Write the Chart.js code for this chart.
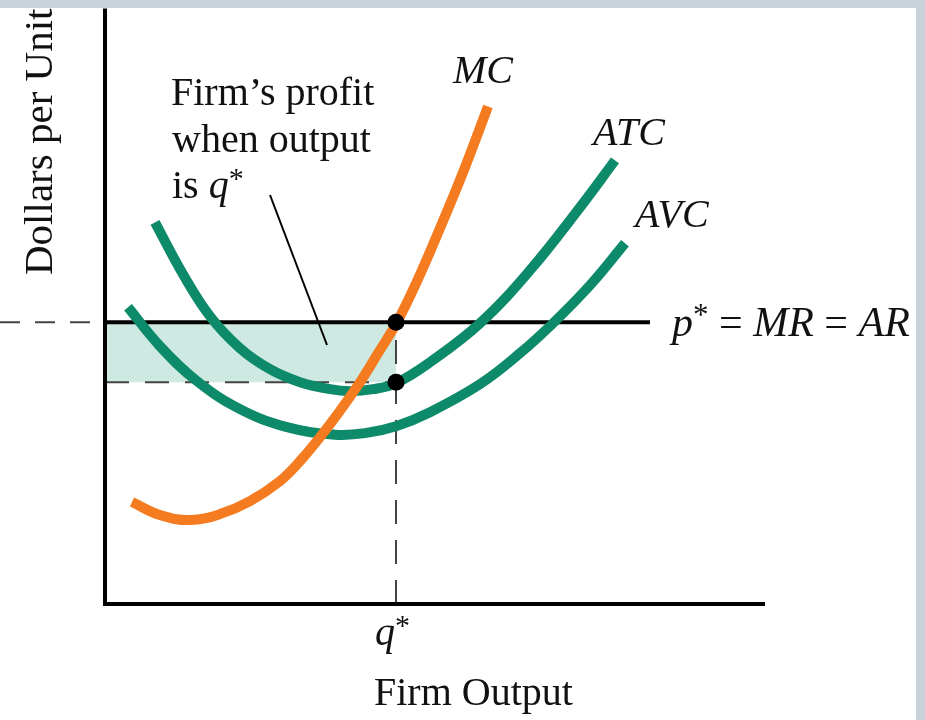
<!DOCTYPE html>
<html>
<head>
<meta charset="utf-8">
<title>Firm profit at q*</title>
<script src="https://cdn.jsdelivr.net/npm/chart.js@4.4.1/dist/chart.umd.min.js"></script>
<style>
  html, body { margin: 0; padding: 0; background: #c8d2da; }
  canvas { display: block; }
</style>
</head>
<body>
<canvas id="costChart" width="925" height="720"></canvas>
<script>
// curve readings (x = output, y = dollars per unit)
const mcX  = [2.7, 5.5, 8.5, 11.5, 14.5, 17.5, 19.5, 22.5, 25.5, 27.3, 29.2, 31.2, 33.2, 35.8, 38.3];
const mcY  = [10.2, 8.9, 8.4, 9.0, 10.3, 12.3, 14.3, 18.0, 22.2, 25.1, 28.2, 32.3, 36.9, 43.2, 49.8];
const atcX = [5.0, 7.8, 10.5, 13.5, 16.5, 19.5, 22.5, 24.5, 26.8, 29.1, 32.5, 37.5, 42.5, 47.5, 51.0];
const atcY = [38.2, 33.0, 28.8, 25.6, 23.5, 22.2, 21.5, 21.3, 21.5, 22.1, 24.2, 28.1, 33.4, 39.7, 44.4];
const avcX = [2.3, 5.5, 9.2, 13.5, 18.2, 23.0, 26.0, 29.1, 32.5, 37.5, 41.5, 44.8, 48.5, 52.0];
const avcY = [29.7, 25.8, 22.3, 19.5, 17.7, 16.95, 17.1, 17.8, 19.2, 22.0, 25.1, 28.1, 31.9, 36.1];

const pStar = 28.2;      // price = MR = AR
const qStar = 29.1;      // profit maximising output
const atcAtQ = 22.2;     // average total cost at q*
const priceLineEnd = 54.5;
const guideStart = -10.5;

const xRange = [0, 66];
const yRange = [0, 59.6];

const orange = '#f47b20';
const green = '#0d8a69';
const shade = '#cde9e1';
const serif = '"Liberation Serif", "Times New Roman", serif';

function pts(xs, ys) {
    return xs.map((x, i) => ({ x: x, y: ys[i] }));
}

// draws a run of text pieces left to right
function drawRun(ctx, pieces, x, y) {
    pieces.forEach(p => {
        ctx.font = p.font;
        ctx.fillText(p.t, x, y - (p.rise || 0));
        x += ctx.measureText(p.t).width;
    });
}

// background, axes and all the text
const decorations = {
    id: 'decorations',
    beforeDraw(chart) {
        const ctx = chart.ctx;
        ctx.save();
        ctx.fillStyle = '#c8d2da';
        ctx.fillRect(0, 0, chart.width, chart.height);
        ctx.fillStyle = '#ffffff';
        ctx.fillRect(0, 8, 916, chart.height - 8);
        ctx.restore();
    },
    afterDraw(chart) {
        const ctx = chart.ctx;
        const xs = chart.scales.x, ys = chart.scales.y;
        const px = v => xs.getPixelForValue(v);
        const py = v => ys.getPixelForValue(v);
        const a = chart.chartArea;

        ctx.save();
        // axes
        ctx.strokeStyle = '#000';
        ctx.lineWidth = 4;
        ctx.beginPath();
        ctx.moveTo(a.left, a.top);
        ctx.lineTo(a.left, a.bottom);
        ctx.lineTo(a.right, a.bottom);
        ctx.stroke();

        // leader line for the profit note
        ctx.lineWidth = 2;
        ctx.beginPath();
        ctx.moveTo(270, 195);
        ctx.lineTo(327, 345);
        ctx.stroke();

        ctx.fillStyle = '#111';
        ctx.textBaseline = 'alphabetic';
        ctx.textAlign = 'left';

        const roman = size => `${size}px ${serif}`;
        const ital = size => `italic ${size}px ${serif}`;

        ctx.font = ital(40);
        ctx.fillText('MC', 453, 83);
        ctx.fillText('ATC', 593, 145);
        ctx.fillText('AVC', 635, 227);

        ctx.font = roman(40);
        ctx.fillText('Firm\u2019s profit', 171, 105);
        ctx.fillText('when output', 172, 152);
        drawRun(ctx, [
            { t: 'is ', font: roman(40) },
            { t: 'q', font: ital(40) },
            { t: '*', font: roman(30), rise: 10 }
        ], 172, 198);

        // p* = MR = AR
        drawRun(ctx, [
            { t: 'p', font: ital(42) },
            { t: '*', font: roman(31), rise: 11 },
            { t: ' = ', font: roman(42) },
            { t: 'MR', font: ital(42) },
            { t: ' = ', font: roman(42) },
            { t: 'AR', font: ital(42) }
        ], 672, py(pStar) + 14);

        // q* tick label and axis titles
        drawRun(ctx, [
            { t: 'q', font: ital(40) },
            { t: '*', font: roman(30), rise: 10 }
        ], px(qStar) - 21, 645);
        ctx.font = roman(40);
        ctx.fillText('Firm Output', 374, 705);

        ctx.translate(52, 275);
        ctx.rotate(-Math.PI / 2);
        ctx.font = roman(41);
        ctx.fillText('Dollars per Unit', 0, 0);
        ctx.restore();
    }
};

const dashed = [24, 16];

new Chart(document.getElementById('costChart'), {
    type: 'line',
    data: {
        datasets: [
            {
                label: 'Profit',
                data: pts([0, qStar], [pStar, pStar]),
                fill: { value: atcAtQ },
                backgroundColor: shade,
                borderWidth: 0,
                pointRadius: 0,
                order: 9
            },
            {
                label: 'p* guide',
                data: pts([guideStart, 0], [pStar, pStar]),
                borderColor: '#444',
                borderWidth: 2,
                borderDash: [20, 15],
                pointRadius: 0,
                order: 8
            },
            {
                label: 'ATC at q*',
                data: pts([0, qStar], [atcAtQ, atcAtQ]),
                borderColor: '#444',
                borderWidth: 2,
                borderDash: dashed,
                pointRadius: 0,
                order: 8
            },
            {
                label: 'q*',
                data: pts([qStar, qStar], [0, pStar]),
                borderColor: '#444',
                borderWidth: 2,
                borderDash: dashed,
                pointRadius: 0,
                order: 8
            },
            {
                label: 'p* = MR = AR',
                data: pts([0, priceLineEnd], [pStar, pStar]),
                borderColor: '#000',
                borderWidth: 4,
                pointRadius: 0,
                order: 7
            },
            {
                label: 'AVC',
                data: pts(avcX, avcY),
                borderColor: green,
                borderWidth: 10,
                pointRadius: 0,
                tension: 0.4,
                order: 6
            },
            {
                label: 'ATC',
                data: pts(atcX, atcY),
                borderColor: green,
                borderWidth: 10,
                pointRadius: 0,
                tension: 0.4,
                order: 5
            },
            {
                label: 'MC',
                data: pts(mcX, mcY),
                borderColor: orange,
                borderWidth: 10,
                pointRadius: 0,
                tension: 0.4,
                order: 4
            },
            {
                label: 'Equilibrium',
                data: pts([qStar, qStar], [pStar, atcAtQ]),
                showLine: false,
                pointRadius: 8.5,
                pointBackgroundColor: '#000',
                pointBorderWidth: 0,
                order: 1
            }
        ]
    },
    options: {
        responsive: false,
        animation: false,
        layout: { padding: { left: 105, top: 8, right: 160, bottom: 116 } },
        elements: { line: { borderCapStyle: 'butt' } },
        scales: {
            x: { type: 'linear', min: xRange[0], max: xRange[1], display: false },
            y: { type: 'linear', min: yRange[0], max: yRange[1], display: false }
        },
        plugins: {
            legend: { display: false },
            tooltip: { enabled: false }
        },
        datasets: { line: { clip: false } }
    },
    plugins: [decorations]
});
</script>
</body>
</html>
